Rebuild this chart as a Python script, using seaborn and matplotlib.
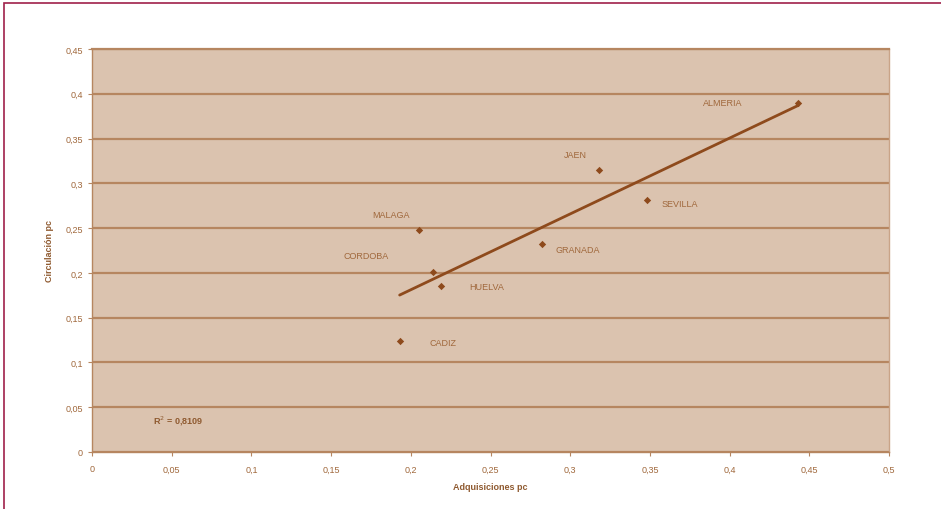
import numpy as np
import pandas as pd
import matplotlib
matplotlib.use("Agg")
import matplotlib.pyplot as plt
import seaborn as sns
from matplotlib.patches import Rectangle

provinces = ["ALMERIA", "JAEN", "SEVILLA", "GRANADA", "MALAGA", "CORDOBA", "HUELVA", "CADIZ"]
adquisiciones = [0.443, 0.318, 0.348, 0.282, 0.205, 0.214, 0.219, 0.193]
circulacion = [0.390, 0.315, 0.281, 0.232, 0.248, 0.201, 0.185, 0.124]
x_ticks = [0, 0.05, 0.1, 0.15, 0.2, 0.25, 0.3, 0.35, 0.4, 0.45, 0.5]
x_tick_labels = ["0", "0,05", "0,1", "0,15", "0,2", "0,25", "0,3", "0,35", "0,4", "0,45", "0,5"]
y_ticks = [0, 0.05, 0.1, 0.15, 0.2, 0.25, 0.3, 0.35, 0.4, 0.45]
y_tick_labels = ["0", "0,05", "0,1", "0,15", "0,2", "0,25", "0,3", "0,35", "0,4", "0,45"]
r2_text = "R$^2$ = 0,8109"

# label offsets in points (dx, dy)
label_offsets = {
    "ALMERIA": (-54, 0), "JAEN": (-17, 11), "SEVILLA": (24, -2), "GRANADA": (26, -4),
    "MALAGA": (-20, 11), "CORDOBA": (-48, 12), "HUELVA": (33, 0), "CADIZ": (31, -1),
}

df = pd.DataFrame({"prov": provinces, "x": adquisiciones, "y": circulacion})

sns.set_theme(style="white")
plt.rcParams["font.family"] = ["Liberation Sans", "DejaVu Sans"]

bg = "#DBC3AF"
grid_c = "#B68660"
mark_c = "#8E4A1C"
text_c = "#A0683C"
label_c = "#8F5A30"

fig = plt.figure(figsize=(9.41, 5.10), dpi=100)
fig.patch.set_facecolor("white")
ax = fig.add_axes([92/941, 1-453/510, (889-92)/941, (453-50)/510])
ax.set_facecolor(bg)

sns.regplot(data=df, x="x", y="y", ax=ax, ci=None, truncate=True, marker="D",
            scatter_kws=dict(s=14, color=mark_c, linewidths=0, alpha=1, zorder=4),
            line_kws=dict(color=mark_c, lw=2, zorder=3))

for p, xv, yv in zip(provinces, adquisiciones, circulacion):
    dx, dy = label_offsets[p]
    ax.annotate(p, (xv, yv), xytext=(dx, dy), textcoords="offset points",
                ha="center", va="center", fontsize=6.5, color=text_c)

ax.text(0.054, 0.0357, r2_text, fontsize=6.5, fontweight="bold", color=label_c,
        ha="center", va="center")

ax.set_xlim(0, 0.5)
ax.set_ylim(0, 0.45)
ax.set_xticks(x_ticks)
ax.set_xticklabels(x_tick_labels)
ax.set_yticks(y_ticks)
ax.set_yticklabels(y_tick_labels)
ax.tick_params(axis="both", labelsize=6.5, labelcolor=text_c, color=grid_c,
               length=3, width=0.8, direction="out", bottom=True, left=True)
ax.tick_params(axis="x", pad=6)
ax.yaxis.grid(True, color=grid_c, lw=1.6)
ax.xaxis.grid(False)
ax.set_axisbelow(True)
for s in ["left", "bottom"]:
    ax.spines[s].set_color(grid_c)
    ax.spines[s].set_linewidth(1.0)
ax.spines["right"].set_color("#C9A488")
ax.spines["right"].set_linewidth(1.0)
ax.spines["top"].set_color(grid_c)
ax.spines["top"].set_linewidth(1.6)

ax.set_xlabel("Adquisiciones pc", fontsize=6.5, fontweight="bold", color=label_c, labelpad=6)
ax.set_ylabel("Circulación pc", fontsize=6.5, fontweight="bold", color=label_c, labelpad=8)

fig.add_artist(Rectangle((4/941, -0.1), 1.2, (1-4/510)+0.1, transform=fig.transFigure,
                         fill=False, edgecolor="#A0204A", lw=1.2))

fig.savefig("out.png", dpi=100)
